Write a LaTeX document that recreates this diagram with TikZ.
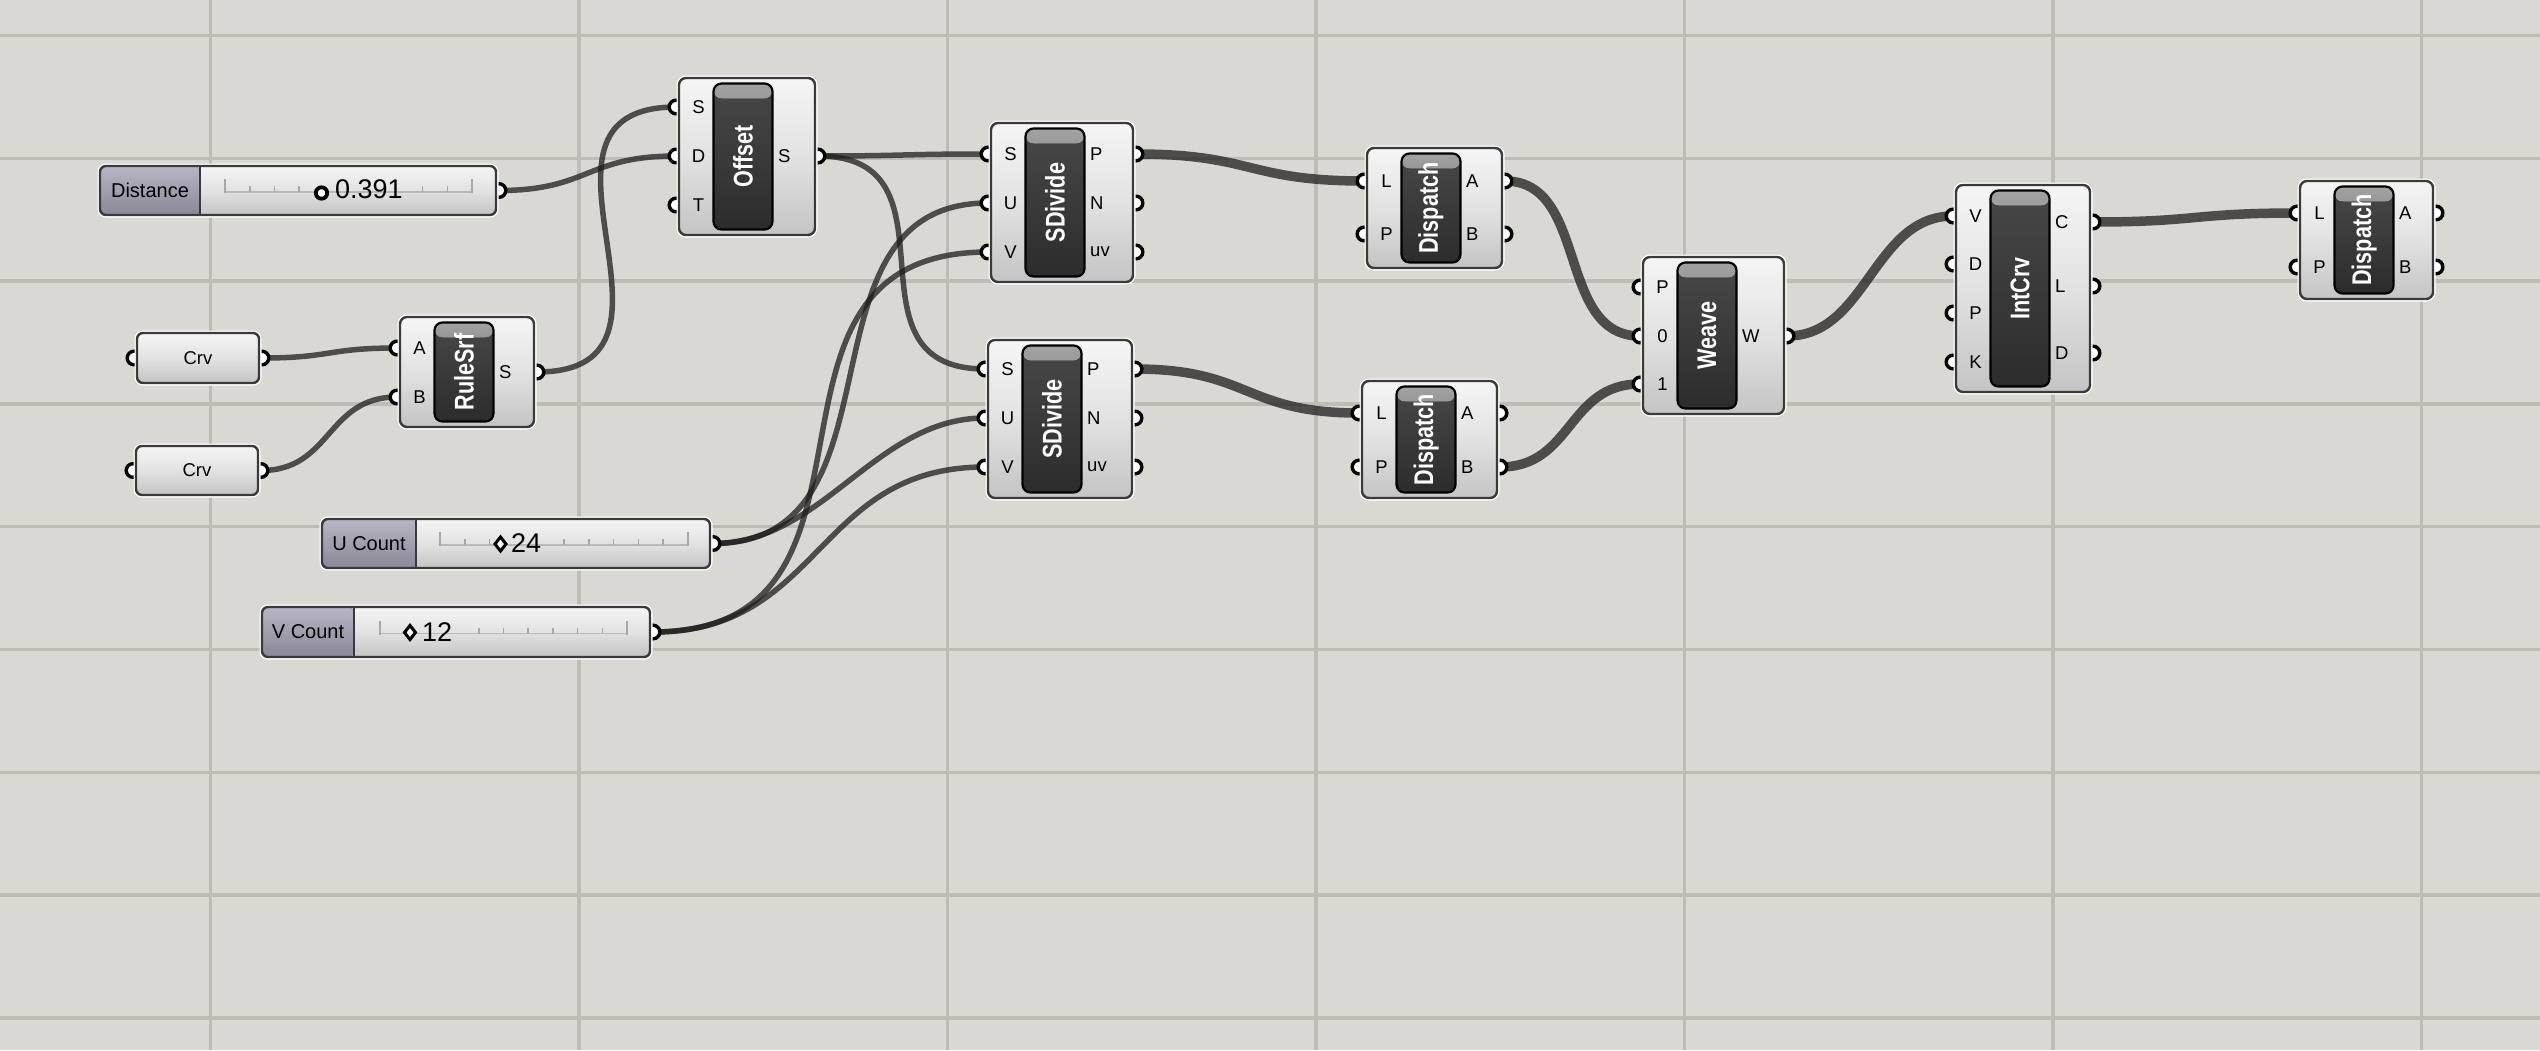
\documentclass[tikz,border=0pt]{standalone}
\usepackage{fontspec}
\setmainfont{Liberation Sans}
\usepackage{graphicx}
\definecolor{bgc}{HTML}{DAD8D2}
\definecolor{gridc}{HTML}{BFBCB5}
\definecolor{boxline}{HTML}{3A3A3A}
\definecolor{boxtop}{HTML}{F5F5F5}
\definecolor{boxmid}{HTML}{E2E2E2}
\definecolor{boxbot}{HTML}{C4C4C4}
\definecolor{bartop}{HTML}{484848}
\definecolor{barbot}{HTML}{2C2C2C}
\definecolor{hltop}{HTML}{A2A2A2}
\definecolor{hlbot}{HTML}{5A5A5A}
\definecolor{labtop}{HTML}{B8B6C4}
\definecolor{labbot}{HTML}{8A8898}
\definecolor{wirec}{HTML}{1E1E1C}
\definecolor{trackc}{HTML}{A8A8A8}
\pgfdeclarelayer{gridlayer}
\pgfdeclarelayer{wirelayer}
\pgfdeclarelayer{portlayer}
\pgfsetlayers{gridlayer,wirelayer,portlayer,main}
\tikzset{
  compbox/.style={draw=boxline, line width=2.4pt, rounded corners=7pt,
    top color=boxtop, bottom color=boxbot, middle color=boxmid,
    inner sep=0pt, outer sep=0pt, preaction={draw=white, line width=5pt}},
  parambox/.style={compbox, rounded corners=6pt, font=\fontsize{18.5}{20}\selectfont},
  barbox/.style={draw=black, line width=2.2pt, rounded corners=8pt,
    top color=bartop, bottom color=barbot, minimum width=59pt,
    inner sep=0pt, outer sep=0pt,
    path picture={\fill[top color=hltop, bottom color=hlbot]
      (path picture bounding box.north west) rectangle
      ([yshift=-15pt]path picture bounding box.north east);}},
  sliderbox/.style={compbox, rounded corners=6pt,
    top color=boxtop, bottom color=boxbot, middle color=boxmid,
    path picture={\fill[top color=labtop, bottom color=labbot]
      (path picture bounding box.north west) rectangle
      ([xshift=\labw pt]path picture bounding box.south west);
      \draw[boxline, line width=2pt]
      ([xshift=\labw pt]path picture bounding box.north west) --
      ([xshift=\labw pt]path picture bounding box.south west);}},
  gtitle/.style={rotate=90, text=white, font=\bfseries\fontsize{27}{27}\selectfont, inner sep=0pt},
  plabel/.style={font=\fontsize{18.5}{20}\selectfont, inner sep=0pt, text=black},
  slabel/.style={font=\fontsize{20}{22}\selectfont, inner sep=0pt, text=black},
  gvalue/.style={font=\fontsize{27}{27}\selectfont, inner sep=0pt, text=black},
  gport/.style={draw=black, line width=3.4pt, fill=white},
  gicon/.style={draw=black, line width=3.8pt, fill=white},
  gtick/.style={draw=trackc, line width=1.6pt},
  gtrackline/.style={draw=trackc!80!white, line width=1.6pt},
  gridline/.style={draw=gridc, line width=3.3pt},
  gwirestyle/.style={draw=wirec, draw opacity=0.75, line width=5.5pt, line cap=round},
  listwire/.style={line width=9.5pt},
}
\newcommand\gcomp[6]{%
  \def\gxa{#2}\def\gxb{#4}%
  \pgfmathsetmacro\gcx{(#2+#4)/2}%
  \pgfmathsetmacro\gcy{(#3+#5)/2}%
  \pgfmathsetmacro\gw{#4-#2}%
  \pgfmathsetmacro\gh{#5-#3}%
  \pgfmathsetmacro\gbx{#2+64}%
  \pgfmathsetmacro\gbh{#5-#3-11}%
  \node[compbox, minimum width=\gw pt, minimum height=\gh pt] (#1) at (\gcx,\gcy) {};
  \node[barbox, minimum height=\gbh pt] (#1-bar) at (\gbx,\gcy) {};
  \node[gtitle] (#1-title) at (\gbx,\gcy) {\scalebox{0.8}[1]{#6}};
}
\newcommand\gin[4]{%
  \coordinate (#1-i#2) at ({\gxa-3},#3);
  \begin{pgfonlayer}{portlayer}\draw[gport] (#1-i#2) circle (6.8);\end{pgfonlayer}
  \node[plabel] (#1-li#2) at ({\gxa+19.5},#3) {#4};
}
\newcommand\gout[4]{%
  \coordinate (#1-o#2) at ({\gxb+3},#3);
  \begin{pgfonlayer}{portlayer}\draw[gport] (#1-o#2) circle (6.8);\end{pgfonlayer}
  \node[plabel, anchor=west] (#1-lo#2) at ({\gxa+99},#3) {#4};
}
\newcommand\gparam[6]{%
  \pgfmathsetmacro\gcx{(#2+#4)/2}%
  \pgfmathsetmacro\gcy{(#3+#5)/2}%
  \pgfmathsetmacro\gw{#4-#2}%
  \pgfmathsetmacro\gh{#5-#3}%
  \node[parambox, minimum width=\gw pt, minimum height=\gh pt] (#1) at (\gcx,\gcy) {#6};
  \coordinate (#1-i) at ({#2-3},\gcy);
  \coordinate (#1-o) at ({#4+3},\gcy);
  \begin{pgfonlayer}{portlayer}\draw[gport] (#1-i) circle (6.8); \draw[gport] (#1-o) circle (6.8);\end{pgfonlayer}
}
\newcommand\gslider[7]{%
  \pgfmathsetmacro\gcx{(#2+#4)/2}%
  \pgfmathsetmacro\gcy{(#3+#5)/2}%
  \pgfmathsetmacro\gw{#4-#2}%
  \pgfmathsetmacro\gh{#5-#3}%
  \pgfmathsetmacro\labw{#6-#2}%
  \pgfmathsetmacro\glx{(#2+#6)/2}%
  \node[sliderbox, minimum width=\gw pt, minimum height=\gh pt] (#1) at (\gcx,\gcy) {};
  \node[slabel] (#1-label) at (\glx,\gcy) {#7};
  \coordinate (#1-o) at ({#4+3},\gcy);
  \begin{pgfonlayer}{portlayer}\draw[gport] (#1-o) circle (6.8);\end{pgfonlayer}
}
\newcommand\gtrack[4]{%
  \draw[gtrackline] ({#1},{#3}) -- ({#2},{#3});
  \draw[gtick] ({#1},{#3+1}) -- ({#1},{#3-13});
  \draw[gtick] ({#2},{#3+1}) -- ({#2},{#3-13});
  \foreach \tk in {#4} {\draw[gtick] ({\tk},{#3}) -- ({\tk},{#3-6});}
}
\newcommand\gwire[4][]{%
  \begin{pgfonlayer}{wirelayer}
  \draw[gwirestyle,#1] (#2) .. controls +(#4,0) and +(-#4,0) .. (#3);
  \end{pgfonlayer}
}
\begin{document}
\begin{tikzpicture}[x=1pt,y=-1pt]
\useasboundingbox (0,0) rectangle (2540,1050);
\begin{pgfonlayer}{gridlayer}
\fill[fill=bgc] (0,0) rectangle (2540,1050);
\foreach \gx in {210.6,579.1,947.6,1316.1,1684.6,2053.1,2421.6}
  {\draw[gridline] (\gx,0) -- (\gx,1050);}
\foreach \gy in {35.5,158.3,281.1,403.9,526.7,649.5,772.3,895.1,1017.9}
  {\draw[gridline] (0,\gy) -- (2540,\gy);}
\end{pgfonlayer}

% parameters
\gparam{crv1}{137}{333}{259}{383}{Crv}
\gparam{crv2}{136}{446}{258}{495}{Crv}

% sliders
\gslider{dist}{100}{166}{496}{215}{200}{Distance}
\gtrack{225}{472}{192}{249.7,274.4,299.1,422.6,447.3}
\draw[gicon] (321.5,193) circle (5.7);
\node[gvalue, anchor=west] (dist-val) at (335,189.5) {0.391};

\gslider{ucnt}{322}{519}{710}{568}{416}{U Count}
\gtrack{440}{688}{545}{464.8,489.6,564,588.8,613.6,638.4,663.2}
\draw[gicon, line width=3pt] (500.5,537) -- (506,544) -- (500.5,551) -- (495,544) -- cycle;
\node[gvalue, anchor=west] (ucnt-val) at (511,543) {24};

\gslider{vcnt}{262}{607}{650}{657}{354}{V Count}
\gtrack{380}{627}{633.5}{478.8,503.5,528.2,552.9,577.6,602.3}
\draw[gicon, line width=3pt] (410,625.5) -- (415.5,632.5) -- (410,639.5) -- (404.5,632.5) -- cycle;
\node[gvalue, anchor=west] (vcnt-val) at (422,632) {12};

% components
\gcomp{rs}{400}{317}{534}{427}{RuleSrf}
\gin{rs}{A}{348}{A}
\gin{rs}{B}{397}{B}
\gout{rs}{S}{372}{S}

\gcomp{off}{679}{78}{815}{235}{Offset}
\gin{off}{S}{107}{S}
\gin{off}{D}{156}{D}
\gin{off}{T}{205}{T}
\gout{off}{S}{156}{S}

\gcomp{sda}{991}{123}{1133}{282}{SDivide}
\gin{sda}{S}{154}{S}
\gin{sda}{U}{203}{U}
\gin{sda}{V}{252}{V}
\gout{sda}{P}{154}{P}
\gout{sda}{N}{203}{N}
\gout{sda}{uv}{252}{uv}

\gcomp{sdb}{988}{340}{1132}{498}{SDivide}
\gin{sdb}{S}{369}{S}
\gin{sdb}{U}{418}{U}
\gin{sdb}{V}{467}{V}
\gout{sdb}{P}{369}{P}
\gout{sdb}{N}{418}{N}
\gout{sdb}{uv}{467}{uv}

\gcomp{dpa}{1367}{148}{1502}{268}{Dispatch}
\gin{dpa}{L}{181}{L}
\gin{dpa}{P}{234}{P}
\gout{dpa}{A}{181}{A}
\gout{dpa}{B}{234}{B}

\gcomp{dpb}{1362}{381}{1497}{498}{Dispatch}
\gin{dpb}{L}{413}{L}
\gin{dpb}{P}{467}{P}
\gout{dpb}{A}{413}{A}
\gout{dpb}{B}{467}{B}

\gcomp{wv}{1643}{257}{1784}{414}{Weave}
\gin{wv}{P}{287}{P}
\gin{wv}{0}{336}{0}
\gin{wv}{1}{384}{1}
\gout{wv}{W}{336}{W}

\gcomp{ic}{1956}{185}{2090}{392}{IntCrv}
\gin{ic}{V}{216}{V}
\gin{ic}{D}{264}{D}
\gin{ic}{P}{313}{P}
\gin{ic}{K}{362}{K}
\gout{ic}{C}{222}{C}
\gout{ic}{L}{286}{L}
\gout{ic}{D}{353}{D}

\gcomp{dpc}{2300}{181}{2433}{299}{Dispatch}
\gin{dpc}{L}{213}{L}
\gin{dpc}{P}{267}{P}
\gout{dpc}{A}{213}{A}
\gout{dpc}{B}{267}{B}

% wires
\gwire{dist-o}{off-iD}{90}
\gwire{crv1-o}{rs-iA}{70}
\gwire{crv2-o}{rs-iB}{71}
\gwire{rs-oS}{off-iS}{177}
\gwire{off-oS}{sda-iS}{88}
\gwire{off-oS}{sdb-iS}{150}
\gwire{ucnt-o}{sda-iU}{200}
\gwire{ucnt-o}{sdb-iU}{110}
\gwire{vcnt-o}{sda-iV}{265}
\gwire{vcnt-o}{sdb-iV}{170}
\gwire[listwire]{sda-oP}{dpa-iL}{117}
\gwire[listwire]{sdb-oP}{dpb-iL}{115}
\gwire[listwire]{dpa-oA}{wv-i0}{84}
\gwire[listwire]{dpb-oB}{wv-i1}{73}
\gwire[listwire]{wv-oW}{ic-iV}{80}
\gwire[listwire]{ic-oC}{dpc-iL}{105}
\end{tikzpicture}
\end{document}
